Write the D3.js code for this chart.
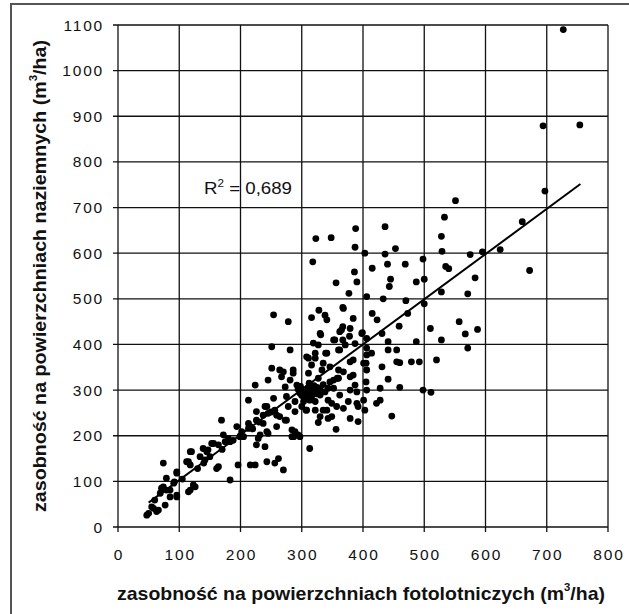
<!DOCTYPE html>
<html lang="pl">
<head>
    <meta charset="UTF-8">
    <title>Zasobność - wykres rozrzutu</title>
    <script src="https://d3js.org/d3.v7.min.js"></script>
    <style>
        body { margin: 0; background: #fff; }
        text { font-family: Arial, "Liberation Sans", sans-serif; fill: #111; }
    </style>
</head>
<body>
    <svg id="chart" width="629" height="614"></svg>

    <script>
        // photo plots (x) vs ground plots (y), m3/ha
        const photoVolume = [
            727, 694, 754, 697, 551, 533, 660, 528, 436, 388, 348, 323, 387, 453, 436, 575, 595, 624, 529, 318,
            440, 415, 469, 498, 535, 540, 672, 386, 356, 390, 445, 443, 487, 500, 583, 377, 406, 433, 470, 528,
            571, 500, 368, 328, 316, 338, 415, 384, 473, 403,
            367, 423, 341, 330, 367, 362, 378, 352, 399, 406, 431, 441, 459, 510, 528, 557, 567, 587, 571, 487,
            520, 492, 479, 460, 455, 441, 431, 441, 428, 460, 498, 511, 406, 405, 406, 405, 406, 406, 379, 384,
            379, 368, 358, 343, 352, 335, 339, 362, 367, 322, 319, 308, 327, 322, 343, 357, 368, 392, 403, 422,
            428, 447, 392, 327, 356, 349, 313, 297, 300, 308, 335, 455, 414,
            254, 278, 251, 281, 251, 245, 270, 286, 273, 254, 224, 213, 243, 237, 259, 273, 289, 294, 284, 259,
            243, 232, 226, 240, 224, 243, 256, 270, 262, 307, 316, 213, 199, 194, 196, 183, 169, 183, 172, 164,
            156, 147, 139, 134, 150, 118, 118, 112, 123, 115, 96, 92, 79, 85, 74, 96, 74, 77, 60, 55,
            63, 50, 58, 69, 66,
            365, 379, 398, 331, 354, 327, 341, 360, 371, 387, 322, 316, 311, 333, 346, 360, 360, 379, 387, 346,
            286, 264, 267, 281, 292, 303, 297, 311, 322, 330, 313, 303, 289, 278, 275, 240, 245, 256, 264, 275,
            289, 226, 237, 226, 216, 284, 287, 229, 245, 341, 376, 390, 401, 322, 330, 343, 379, 349, 322, 362,
            338, 352, 390, 384, 401, 311,
            213, 202, 180, 175, 164, 153, 145, 142, 120, 115, 161, 216, 126, 118, 96, 91, 79, 71, 96, 47, 85,
            305, 310, 315, 320, 300, 308, 318, 325, 312, 298, 294, 330, 315, 306, 324, 335,
            105, 130, 140, 170, 188, 200, 205, 220, 230, 250
        ];
        const groundVolume = [
            1090, 879, 881, 736, 715, 679, 669, 637, 658, 654, 634, 632, 613, 610, 598, 597, 603, 608, 604, 581,
            576, 567, 576, 587, 571, 566, 562, 559, 535, 537, 543, 527, 537, 543, 546, 512, 505, 500, 496, 515,
            511, 489, 479, 475, 459, 464, 468, 457, 468, 600,
            481, 454, 454, 424, 439, 428, 418, 410, 426, 413, 424, 406, 440, 435, 410, 450, 423, 433, 392, 406,
            366, 362, 362, 360, 388, 388, 351, 324, 304, 306, 300, 295, 300, 318, 344, 359, 377, 392, 362, 333,
            300, 340, 326, 304, 322, 359, 381, 388, 410, 381, 403, 373, 326, 304, 278, 264, 260, 264, 256, 271,
            278, 243, 231, 229, 214, 242, 172, 198, 264, 256, 256, 362, 381,
            465, 450, 395, 388, 348, 322, 340, 337, 307, 282, 311, 278, 264, 245, 245, 234, 209, 202, 198, 220,
            209, 202, 180, 176, 136, 143, 140, 125, 150, 256, 285, 216, 198, 220, 136, 103, 234, 187, 202, 132,
            183, 169, 172, 154, 154, 165, 136, 143, 92, 77, 118, 99, 107, 81, 88, 66, 140, 48, 59, 44,
            34, 30, 41, 74, 37,
            432, 435, 424, 421, 410, 399, 381, 388, 399, 402, 370, 355, 337, 344, 351, 344, 326, 329, 311, 318,
            344, 344, 329, 322, 311, 300, 293, 293, 300, 289, 278, 275, 275, 264, 286, 264, 249, 256, 242, 234,
            253, 234, 227, 253, 220, 213, 198, 194, 205, 256, 275, 271, 278, 256, 242, 238, 238, 271, 275, 289,
            296, 304, 296, 366, 359, 370,
            227, 209, 194, 187, 180, 183, 165, 147, 165, 143, 128, 136, 88, 81, 121, 96, 81, 85, 70, 26, 66,
            300, 305, 295, 310, 288, 282, 302, 306, 315, 308, 302, 302, 285, 292, 292, 312,
            105, 128, 140, 170, 190, 200, 198, 215, 230, 252
        ];

        const xTicks = [0, 100, 200, 300, 400, 500, 600, 700, 800];
        const yTicks = [0, 100, 200, 300, 400, 500, 600, 700, 800, 900, 1000, 1100];

        // trend line
        const trendSlope = 0.99;
        const trendIntercept = 4;
        const trendRange = [50, 755];
        const r2Label = "0,689";

        const svg = d3.select("#chart");

        // outer frame (runs off the right and bottom edge)
        svg.append("rect")
            .attr("x", 11).attr("y", 4)
            .attr("width", 700).attr("height", 700)
            .attr("fill", "none")
            .attr("stroke", "#555")
            .attr("stroke-width", 2);

        const plot = { left: 118, right: 608, top: 25, bottom: 527 };
        const x = d3.scaleLinear().domain([0, 800]).range([plot.left, plot.right]);
        const y = d3.scaleLinear().domain([0, 1100]).range([plot.bottom, plot.top]);

        const grid = svg.append("g").attr("stroke", "#111").attr("stroke-width", 1.3);

        grid.selectAll(".vx")
            .data(xTicks)
            .enter()
            .append("line")
            .attr("x1", d => x(d)).attr("x2", d => x(d))
            .attr("y1", plot.top).attr("y2", plot.bottom + 5);

        grid.selectAll(".hy")
            .data(yTicks)
            .enter()
            .append("line")
            .attr("x1", plot.left - 5).attr("x2", plot.right)
            .attr("y1", d => y(d)).attr("y2", d => y(d));

        // tick labels
        svg.append("g").selectAll("text")
            .data(yTicks)
            .enter()
            .append("text")
            .attr("x", plot.left - 14)
            .attr("y", d => y(d) + 5.5)
            .attr("text-anchor", "end")
            .attr("font-size", 15.5)
            .attr("letter-spacing", 1.8)
            .attr("fill", "#222")
            .text(d => d);

        svg.append("g").selectAll("text")
            .data(xTicks)
            .enter()
            .append("text")
            .attr("x", d => x(d) + 1)
            .attr("y", 560)
            .attr("text-anchor", "middle")
            .attr("font-size", 15.5)
            .attr("letter-spacing", 1.8)
            .attr("fill", "#222")
            .text(d => d);

        // points
        svg.append("g").selectAll("circle")
            .data(photoVolume.map((v, i) => [v, groundVolume[i]]))
            .enter()
            .append("circle")
            .attr("cx", d => x(d[0]))
            .attr("cy", d => y(d[1]))
            .attr("r", 3.4)
            .attr("fill", "#000");

        // trend line
        svg.append("line")
            .attr("x1", x(trendRange[0]))
            .attr("y1", y(trendSlope * trendRange[0] + trendIntercept))
            .attr("x2", x(trendRange[1]))
            .attr("y2", y(trendSlope * trendRange[1] + trendIntercept))
            .attr("stroke", "#000")
            .attr("stroke-width", 2);

        // R^2
        const r2 = svg.append("text")
            .attr("x", 204).attr("y", 194)
            .attr("font-size", 16)
            .attr("textLength", 88)
            .attr("lengthAdjust", "spacingAndGlyphs");
        r2.append("tspan").text("R");
        r2.append("tspan").attr("font-size", 10).attr("dy", -7).text("2");
        r2.append("tspan").attr("dy", 7).text(" = " + r2Label);

        // axis titles
        const xt = svg.append("text")
            .attr("x", 117).attr("y", 600)
            .attr("font-size", 19)
            .attr("font-weight", "bold")
            .attr("textLength", 488)
            .attr("lengthAdjust", "spacingAndGlyphs");
        xt.append("tspan").text("zasobność na powierzchniach fotolotniczych (m");
        xt.append("tspan").attr("font-size", 11).attr("dy", -9).text("3");
        xt.append("tspan").attr("dy", 9).text("/ha)");

        const yt = svg.append("text")
            .attr("transform", "translate(46,512) rotate(-90)")
            .attr("font-size", 19)
            .attr("font-weight", "bold")
            .attr("textLength", 472)
            .attr("lengthAdjust", "spacingAndGlyphs");
        yt.append("tspan").text("zasobność na powierzchniach naziemnych (m");
        yt.append("tspan").attr("font-size", 11).attr("dy", -9).text("3");
        yt.append("tspan").attr("dy", 9).text("/ha)");
    </script>
</body>
</html>
